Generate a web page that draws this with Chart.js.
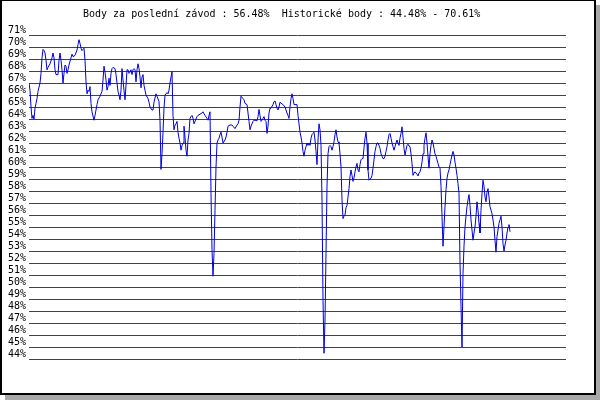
<!DOCTYPE html>
<html>
<head>
<meta charset="utf-8">
<script src="https://cdn.jsdelivr.net/npm/chart.js@4/dist/chart.umd.min.js"></script>
<style>
html,body{margin:0;padding:0;background:#fff;}
canvas{display:block;}
</style>
</head>
<body>
<canvas id="c" width="600" height="400"></canvas>
<script>
const titleText = "Body za poslední závod : 56.48%  Historické body : 44.48% - 70.61%";
const yMin = 44, yMax = 71;
const xMax = 537;
const races = [
0,1,2,3,4,5,6,7,8,9,11,12,13,14,15,16,17,18,19,21,23,24,25,26,27,29,30,31,32,33,34,35,36,37,38,39,40,42,43,44,46,48,49,50,51,52,53,54,55,56,57,58,59,60,61,62,63,64,65,66,67,68,69,71,73,74,75,76,77,78,79,80,81,82,83,84,86,87,88,89,90,91,92,93,94,95,96,97,98,99,100,101,102,103,104,105,106,107,108,109,110,111,112,113,114,115,116,117,119,120,121,123,124,125,127,128,130,131,132,133,134,135,136,138,139,140,141,142,143,144,145,146,147,148,149,150,151,152,153,154,155,156,157,158,159,160,161,162,163,164,165,166,168,169,171,173,174,176,178,179,180,181,182,183,184,185,186,187,188,189,190,191,192,193,194,196,197,198,199,201,203,204,206,208,209,210,211,212,214,215,216,218,219,220,221,222,223,224,225,226,228,229,230,231,232,233,234,235,236,237,238,239,240,241,242,244,245,246,247,248,249,250,251,253,254,256,258,259,260,261,262,263,264,265,266,268,269,270,271,272,273,274,275,276,277,278,279,280,281,282,283,284,285,286,287,288,289,290,291,292,293,294,295,296,297,298,299,300,301,302,303,304,305,306,307,308,309,310,311,312,313,314,315,316,317,318,319,320,321,322,323,324,325,326,327,328,329,330,331,332,333,334,335,336,337,338,339,340,341,342,343,344,345,346,347,348,349,350,351,352,353,354,355,356,357,358,359,360,361,362,363,364,365,366,367,368,369,370,371,372,373,374,375,376,377,378,379,380,381,382,383,384,385,386,387,388,389,390,391,392,393,394,395,396,397,398,399,400,401,402,403,404,405,406,407,408,409,410,411,412,413,414,415,416,417,418,419,420,421,422,423,424,425,426,427,428,429,430,431,432,433,434,435,436,437,438,439,440,441,442,443,444,445,446,447,448,449,450,451,452,453,454,455,456,457,458,459,460,461,462,463,464,465,466,467,468,469,470,471,472,473,474,475,476,477,478,479,480,481
];
const points = [
67.0,66.4,65.0,64.05,64.3,64.0,64.9,65.3,65.7,66.3,67.0,67.8,69.1,69.8,69.7,69.5,68.9,68.1,68.3,68.6,69.1,69.5,69.1,68.1,67.7,67.7,68.9,69.5,68.9,68.1,67.0,67.8,68.5,68.4,67.8,68.1,68.5,69.1,69.4,69.2,69.3,69.75,70.2,70.61,70.3,69.9,69.7,69.8,69.9,68.9,67.1,66.1,66.4,66.3,66.7,65.3,64.6,64.25,63.9,64.3,64.75,65.2,65.6,65.9,66.3,67.25,68.4,67.9,67.25,66.4,66.7,67.4,66.8,67.8,68.2,68.3,68.2,67.7,67.0,66.3,66.0,65.6,66.4,68.2,67.25,66.4,65.6,66.8,68.1,68.1,67.8,67.9,68.1,67.7,68.1,68.2,68.1,67.1,68.1,68.6,68.2,67.5,66.6,67.5,67.7,66.8,66.4,66.0,65.7,65.4,65.0,64.75,64.75,65.4,66.1,65.9,65.45,63.9,59.8,61.1,62.9,64.9,66.0,66.2,66.1,66.4,67.0,67.5,67.95,64.3,63.1,63.5,63.6,63.8,62.9,62.4,62.0,61.4,61.8,62.0,63.4,62.5,61.4,60.9,62.25,62.8,64.05,64.2,64.3,64.05,63.6,63.8,64.2,64.3,64.4,64.5,64.6,64.3,64.05,63.9,64.3,64.6,57.8,53.1,50.9,52.8,56.4,60.0,62.0,62.25,62.4,62.7,62.9,62.5,62.0,62.25,62.5,62.9,63.4,63.5,63.5,63.4,63.2,63.5,63.6,63.9,65.0,65.9,65.7,65.6,65.3,65.2,64.5,63.8,63.1,63.4,63.6,63.8,63.9,63.9,63.85,64.2,64.8,64.3,63.8,63.9,64.05,64.2,63.9,63.8,62.8,63.4,64.5,64.9,64.9,65.2,65.45,65.5,65.2,64.9,64.75,65.0,65.4,65.25,65.2,65.0,64.5,64.3,64.05,65.0,65.7,66.1,65.7,65.2,65.2,65.2,64.3,63.6,62.9,62.5,62.0,61.3,60.9,61.4,61.7,62.0,61.8,62.0,61.8,62.4,62.7,62.8,62.9,62.25,61.3,60.2,62.25,63.6,63.1,61.8,57.25,48.9,44.48,47.25,52.8,58.4,61.1,61.7,61.8,61.7,61.4,61.7,62.1,62.7,63.1,62.5,62.1,62.0,61.1,60.0,57.25,55.7,55.9,56.0,56.6,56.8,57.5,58.2,59.2,59.75,59.3,58.8,59.1,59.6,60.0,60.3,59.75,59.6,60.2,60.6,60.7,60.7,61.6,62.4,62.9,62.0,59.75,58.9,59.0,59.05,59.3,59.9,60.6,61.3,61.7,62.0,62.0,61.8,61.55,61.1,60.9,60.7,60.7,60.9,61.3,61.7,62.25,62.7,62.8,62.4,62.0,61.7,61.4,61.7,62.0,62.25,62.0,61.8,62.4,62.8,63.35,62.5,61.55,61.0,61.4,61.8,61.9,61.75,61.7,61.1,60.3,59.3,59.5,59.6,59.5,59.4,59.25,59.5,59.6,59.9,60.4,61.1,61.8,62.4,62.85,62.0,60.9,59.9,61.1,61.8,62.25,62.0,61.55,61.1,60.9,60.6,60.3,60.0,59.9,58.4,55.9,53.4,55.0,56.7,58.1,59.05,59.5,59.75,60.2,60.6,61.0,61.3,61.0,60.4,59.9,59.3,58.6,57.8,52.0,48.4,45.0,51.1,53.4,55.0,55.9,56.7,57.25,57.7,56.8,55.6,54.75,53.9,54.5,55.0,55.9,57.1,56.4,55.3,54.5,56.4,57.8,58.9,58.4,57.5,57.1,57.9,58.2,57.5,56.7,56.4,56.1,55.6,55.0,53.9,52.9,54.2,54.75,55.3,55.6,55.9,55.0,53.6,53.0,53.5,53.9,54.5,55.0,55.2,54.6
];

const framePlugin = {
  id: 'frame',
  beforeDraw(chart) {
    const ctx = chart.ctx;
    ctx.save();
    ctx.fillStyle = '#ffffff';
    ctx.fillRect(0, 0, 600, 400);
    ctx.fillStyle = '#a8a8a8';
    ctx.fillRect(596, 5, 4, 395);
    ctx.fillRect(5, 395, 595, 5);
    ctx.fillStyle = '#000000';
    ctx.fillRect(0, 0, 596, 1);
    ctx.fillRect(0, 0, 2, 395);
    ctx.fillRect(594, 0, 2, 395);
    ctx.fillRect(0, 393, 596, 2);
    ctx.restore();
  },
  afterDraw(chart) {
    const ctx = chart.ctx;
    ctx.save();
    ctx.font = '10px "DejaVu Sans Mono", monospace';
    ctx.fillStyle = '#000000';
    ctx.textAlign = 'left';
    ctx.textBaseline = 'middle';
    ctx.fillText(titleText, 83, 14);
    ctx.restore();
  }
};

new Chart(document.getElementById('c'), {
  type: 'line',
  data: {
    datasets: [{
      data: races.map((r, i) => ({ x: r, y: points[i] })),
      borderColor: '#0000dd',
      borderWidth: 1,
      pointRadius: 0,
      tension: 0,
      fill: false
    }]
  },
  options: {
    responsive: false,
    animation: false,
    devicePixelRatio: 1,
    layout: { padding: { left: 0, right: 34, top: 35, bottom: 41 } },
    plugins: { legend: { display: false }, tooltip: { enabled: false }, title: { display: false } },
    scales: {
      x: { type: 'linear', min: 0, max: xMax, display: false },
      y: {
        min: yMin, max: yMax,
        afterFit(scale) { scale.width = 29; },
        border: { display: false },
        grid: { color: '#dd0000', lineWidth: 1, drawTicks: false },
        ticks: {
          stepSize: 1,
          autoSkip: false,
          padding: 3,
          labelOffset: -5,
          color: '#000000',
          font: { family: '"DejaVu Sans Mono", monospace', size: 10 },
          callback: v => v + '%'
        }
      }
    }
  },
  plugins: [framePlugin]
});
</script>
</body>
</html>
